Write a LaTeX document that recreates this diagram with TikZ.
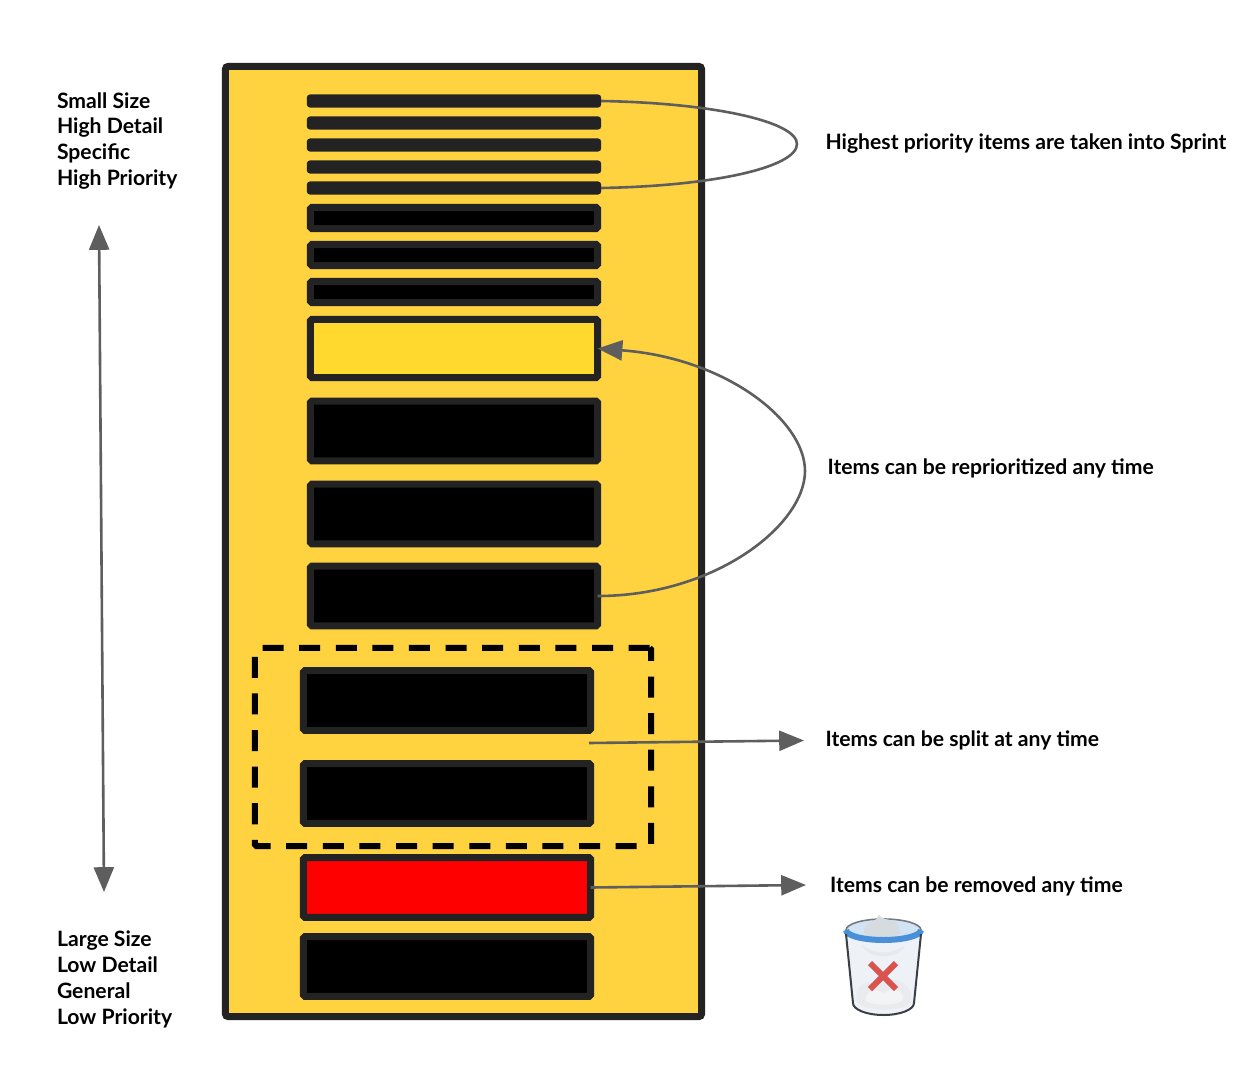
\documentclass[tikz,border=0pt]{standalone}
\usepackage{fontspec}
\setmainfont{Lato}
\usepackage{tikz}
\usetikzlibrary{arrows.meta, positioning, calc}
\definecolor{panelfill}{HTML}{FFD240}
\definecolor{barline}{HTML}{232323}
\definecolor{pickfill}{HTML}{FFD92E}
\definecolor{dropfill}{HTML}{FE0000}
\definecolor{linkgrey}{HTML}{5E5E5E}
\definecolor{binblue}{HTML}{4A90D9}
\definecolor{binedge}{HTML}{3A3F45}
\definecolor{binglass}{HTML}{EEF2F7}
\definecolor{binpaper}{HTML}{D6DBE0}
\definecolor{bincross}{HTML}{D9534F}

\begin{document}
\begin{tikzpicture}[
    x=0.025cm, y=-0.025cm,
    >={Triangle[length=0.62cm,width=0.5cm]},
    every node/.style={inner sep=0pt, outer sep=0pt},
    panel/.style={draw=barline, fill=panelfill, line width=0.175cm, rounded corners=2pt, minimum width=11.9cm, minimum height=23.75cm},
    thinbar/.style={fill=barline, rounded corners=2pt, minimum width=7.35cm, minimum height=0.325cm},
    midbar/.style={draw=barline, fill=black, line width=0.175cm, rounded corners=1pt, minimum width=7.175cm, minimum height=0.525cm},
    bigbar/.style={midbar, minimum height=1.49cm},
    note/.style={font=\bfseries\fontsize{15.05}{18.43}\selectfont, anchor=west, align=left, text=black},
    link/.style={draw=linkgrey, line width=0.065cm},
]

\useasboundingbox (0,0) rectangle (1252,1072);
\fill[white] (0,0) rectangle (1252,1072);

% ================= BACKLOG COLUMN =================
\node[panel] (backlog) at (463.5,541.5) {};

\foreach \i/\yy in {0/101, 1/123, 2/145, 3/167, 4/188} {
    \node[thinbar] (thin\i) at (454,\yy) {};
}
\foreach \i/\yy in {0/218, 1/255, 2/292} {
    \node[midbar] (mid\i) at (454,\yy) {};
}
\node[bigbar, fill=pickfill, minimum height=1.45cm] (moved) at (454,348.5) {};
\foreach \i/\yy in {0/431, 1/514, 2/596} {
    \node[bigbar] (big\i) at (454,\yy) {};
}

% ================= SPLIT GROUP =================
\node[draw=black, line width=0.15cm, dash pattern=on 0.525cm off 0.39cm, rounded corners=1pt, minimum width=9.9cm, minimum height=4.95cm] (splitbox) at (453,747) {};
\node[bigbar] (split0) at (447,700.5) {};
\node[bigbar] (split1) at (447,793.5) {};

% ================= BOTTOM ITEMS =================
\node[bigbar, fill=dropfill] (dropped) at (447,887.5) {};
\node[bigbar] (last) at (447,966.5) {};

% ================= LEFT AXIS =================
\node[note] (toplabel) at (57,141) {Small Size\\High Detail\\Specific\\High Priority};
\node[note] (botlabel) at (57,979.5) {Large Size\\Low Detail\\General\\Low Priority};
\coordinate (axistop) at (99,225);
\coordinate (axisbot) at (104,892);
\draw[<->, link] (axistop) -- (axisbot);

% ================= RIGHT NOTES =================
\node[note] (sprintnote) at (825.5,144) {Highest priority items are taken into Sprint};
\node[note] (reprionote) at (827.5,468.5) {Items can be reprioritized any time};
\node[note] (splitnote) at (825.5,740) {Items can be split at any time};
\node[note] (dropnote) at (830,886) {Items can be removed any time};

\draw[link] (thin0.east) .. controls (715,103) and (797,122) .. (797,144) .. controls (797,167) and (715,186) .. (thin4.east);
\draw[->, link] (big2.east) .. controls (715,596) and (805,525) .. (805,471) .. controls (805,420) and (725,358) .. (moved.east);

\coordinate (splitfrom) at (589,743);
\coordinate (splitto) at (804,740.5);
\draw[->, link] (splitfrom) -- (splitto);
\coordinate (dropto) at (806,885);
\draw[->, link] (dropped.east) -- (dropto);

% ================= BIN =================
\fill[binglass] (845,932) -- (853,1003) arc[x radius=30.5, y radius=12, start angle=180, end angle=0] -- (921,932) -- cycle;
\fill[binpaper!60] (862,945) .. controls (875,955) and (892,955) .. (905,945) .. controls (900,960) and (868,960) .. (862,945);
\fill[binpaper!55] (858,1003) .. controls (850,985) and (870,978) .. (880,985) .. controls (895,972) and (915,985) .. (911,1003) .. controls (900,1012) and (868,1012) .. (858,1003);
\fill[white!70!binpaper] (866,1001) .. controls (864,992) and (876,988) .. (884,993) .. controls (894,986) and (906,992) .. (902,1001) .. controls (892,1006) and (874,1006) .. (866,1001);
\fill[binblue!25] (883.5,930) ellipse[x radius=37.5, y radius=10];
\draw[binedge!70, line width=0.04cm] (846,930) arc[x radius=37.5, y radius=11, start angle=180, end angle=360];
\fill[binpaper] (864,932) .. controls (864,920) and (875,925) .. (879,915) .. controls (884,922) and (895,917) .. (899,927) .. controls (903,938) and (890,941) .. (880,939) .. controls (872,940) and (866,938) .. (864,932);
\draw[binblue, line width=0.15cm] (846,930) arc[x radius=37.5, y radius=10, start angle=180, end angle=0];
\draw[binedge, line width=0.05cm] (846,934) -- (853,1003) arc[x radius=30.5, y radius=12, start angle=180, end angle=0] -- (921,934);
\draw[bincross, line width=0.15cm] (870,963) -- (896,989) (896,963) -- (870,989);

\end{tikzpicture}
\end{document}
